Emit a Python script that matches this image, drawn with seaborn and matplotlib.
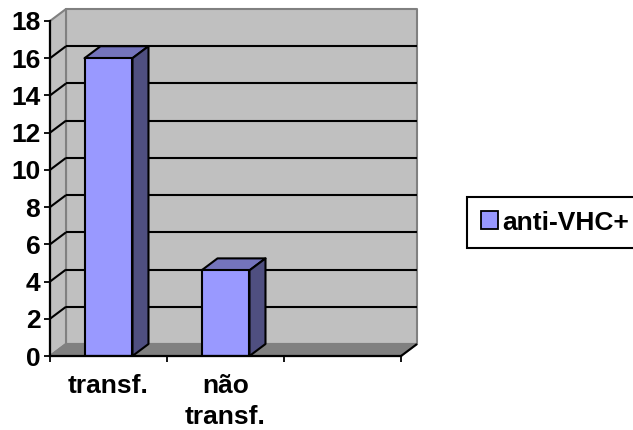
import matplotlib
matplotlib.use("Agg")
import matplotlib.pyplot as plt
from matplotlib.patches import Polygon
from matplotlib.transforms import IdentityTransform
import pandas as pd
import seaborn as sns

categories = ["transf.", "não\ntransf."]
values = [16, 4.6]
series_name = "anti-VHC+"
y_ticks = list(range(0, 19, 2))

FRONT = "#9999FF"
TOP = "#7474BC"
SIDE = "#4F4F80"
WALL = "#C0C0C0"
FLOOR = "#808080"
DEPTH = (16, 12)  # oblique depth of the box, in pixels

sns.set_theme(style="white")
plt.rcParams["font.family"] = ["Liberation Sans", "DejaVu Sans"]
plt.rcParams["font.weight"] = "bold"

W, H = 633, 430
fig = plt.figure(figsize=(W / 100, H / 100), dpi=100, facecolor="white")
ax = fig.add_axes([50 / W, 1 - 356 / H, 351 / W, 335 / H])
ax.patch.set_alpha(0)

frame = pd.DataFrame({"group": categories, "value": values, "series": series_name})
sns.barplot(data=frame, x="group", y="value", hue="series", dodge=False, width=0.41,
            palette=[FRONT], saturation=1, edgecolor="black", linewidth=1.5, ax=ax, zorder=5)
ax.set_xlim(-0.5, 2.5)
ax.set_ylim(0, 18)
ax.set_xlabel("")
ax.set_ylabel("")

fig.canvas.draw()


def px(x, y):
    return ax.transData.transform((x, y))


def back(p):
    return p[0] + DEPTH[0], p[1] + DEPTH[1]


def face(points, color, edge, z, lw=1.5):
    ax.add_patch(Polygon(points, closed=True, facecolor=color, edgecolor=edge, lw=lw,
                         joinstyle="round", transform=IdentityTransform(),
                         clip_on=False, zorder=z))


def line(a, b, color, z, lw=1.5):
    ax.plot([a[0], b[0]], [a[1], b[1]], color=color, lw=lw, transform=IdentityTransform(),
            clip_on=False, zorder=z, solid_capstyle="butt")


x0, x1 = ax.get_xlim()
y0, y1 = ax.get_ylim()
bl, br, tl = px(x0, y0), px(x1, y0), px(x0, y1)
tr = px(x1, y1)

# box walls and floor
face([back(bl), back(br), back(tr), back(tl)], WALL, FLOOR, 1)
face([bl, back(bl), back(tl), tl], WALL, FLOOR, 1)
face([bl, br, back(br), back(bl)], FLOOR, FLOOR, 1.5)

# gridlines run along the left wall and across the back wall
for tick in y_ticks[1:-1]:
    start = px(x0, tick)
    line(start, back(start), "black", 2)
    line(back(start), back(px(x1, tick)), "black", 2)
line(br, back(br), "black", 2)

# oblique top and side of each column
for bar in list(ax.patches):
    if not hasattr(bar, "get_x") or bar.get_height() == 0:
        continue
    left, right = bar.get_x(), bar.get_x() + bar.get_width()
    a, b = px(left, bar.get_height()), px(right, bar.get_height())
    c = px(right, 0)
    face([a, b, back(b), back(a)], TOP, "black", 4)
    face([b, c, back(c), back(b)], SIDE, "black", 4)

for name in ("top", "right"):
    ax.spines[name].set_visible(False)
for name in ("left", "bottom"):
    ax.spines[name].set_color("black")
    ax.spines[name].set_linewidth(1.6)
    ax.spines[name].set_zorder(6)

ax.set_yticks(y_ticks)
ax.set_xticks([-0.5, 0.5, 1.5, 2.5], labels=[])
ax.set_xticks([0, 1], labels=categories, minor=True)
ax.tick_params(axis="y", length=4.5, width=1.3, color="black", left=True, pad=2.5,
               labelsize=19, labelcolor="black")
ax.tick_params(axis="x", which="major", length=4.5, width=1.3, color="black", bottom=True)
ax.tick_params(axis="x", which="minor", length=0, pad=13, labelsize=19, labelcolor="black")
for label in ax.get_xticklabels(minor=True):
    label.set_linespacing(1.38)
    label.set_fontweight("bold")
for label in ax.get_yticklabels():
    label.set_fontweight("bold")

ax.get_legend().remove()
handles, labels = ax.get_legend_handles_labels()
legend = fig.legend(handles, labels, loc="center left",
                    bbox_to_anchor=(467.5 / W, 1 - 222.5 / H), fancybox=False, framealpha=1,
                    edgecolor="black", fontsize=19, borderaxespad=0, borderpad=0.5,
                    handlelength=0.65, handleheight=0.65, handletextpad=0.15)
legend.get_frame().set_linewidth(1.5)
legend.legend_handles[0].set_edgecolor("black")
legend.legend_handles[0].set_linewidth(1.3)
for text in legend.get_texts():
    text.set_color("black")
    text.set_fontweight("bold")

fig.savefig("out.png", dpi=100)
